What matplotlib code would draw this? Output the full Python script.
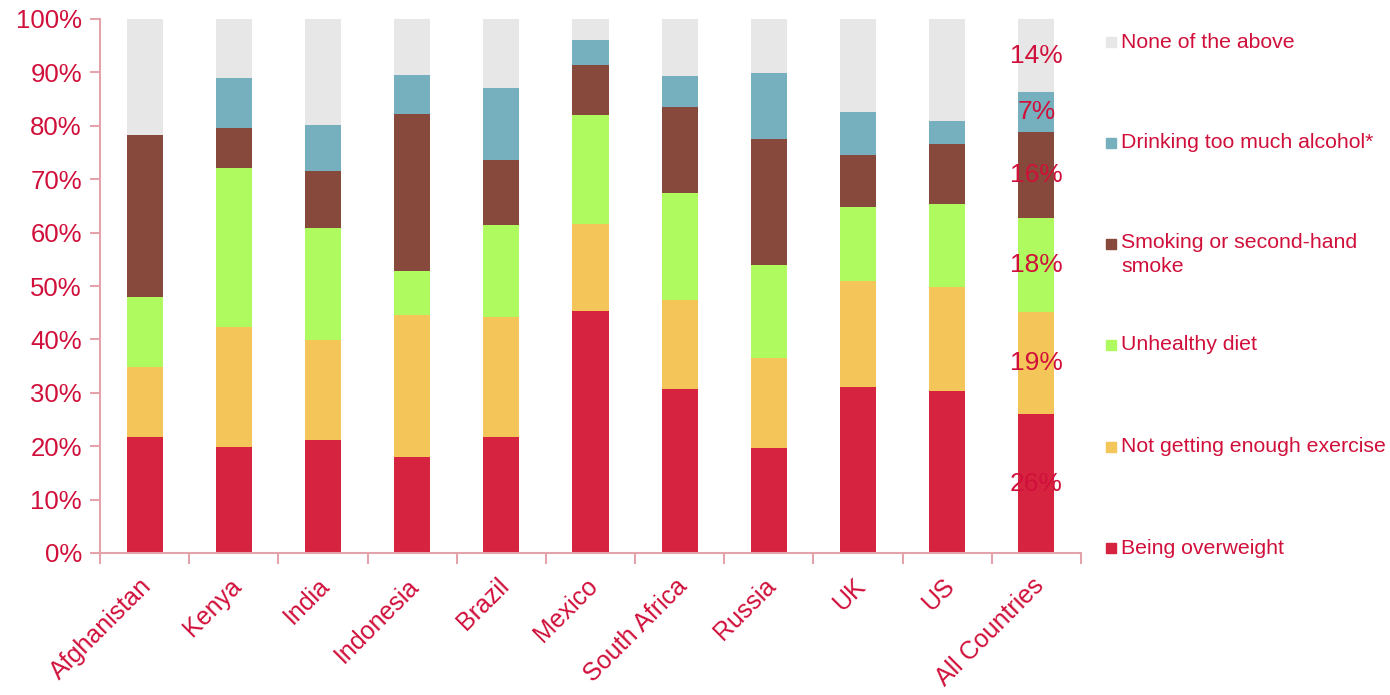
import matplotlib.pyplot as plt
import matplotlib.patches as mpatches
import matplotlib.transforms as mtransforms
import numpy as np

plt.rcParams['font.family'] = ['Liberation Sans', 'DejaVu Sans']

countries = ['Afghanistan', 'Kenya', 'India', 'Indonesia', 'Brazil', 'Mexico',
             'South Africa', 'Russia', 'UK', 'US', 'All Countries']

overweight = [21.7, 19.9, 21.2, 18.0, 21.7, 45.3, 30.7, 19.7, 31.1, 30.3, 26.0]
exercise   = [13.1, 22.4, 18.7, 26.6, 22.5, 16.3, 16.7, 16.8, 19.8, 19.5, 19.1]
diet       = [13.1, 29.8, 21.0,  8.2, 17.2, 20.4, 20.0, 17.4, 13.9, 15.6, 17.6]
smoking    = [30.4,  7.5, 10.6, 29.4, 12.2,  9.4, 16.1, 23.6,  9.7, 11.2, 16.1]
alcohol    = [ 0.0,  9.4,  8.6,  7.3, 13.5,  4.7,  5.8, 12.4,  8.1,  4.3,  7.5]
none_above = [21.7, 11.0, 19.9, 10.5, 12.9,  3.9, 10.7, 10.1, 17.4, 19.1, 13.7]

series = [overweight, exercise, diet, smoking, alcohol, none_above]
names = ['Being overweight', 'Not getting enough exercise', 'Unhealthy diet',
         'Smoking or second-hand\nsmoke', 'Drinking too much alcohol*', 'None of the above']
colors = ['#D52340', '#F4C65A', '#AFFA5F', '#87493B', '#76B0BE', '#E7E7E7']
all_labels = ['26%', '19%', '18%', '16%', '7%', '14%']

txt = '#D0103A'
axc = '#E4A3AA'

fig = plt.figure(figsize=(13.9, 6.95), dpi=100)
ax = fig.add_axes([100/1390, 1-553/695, 981/1390, 534/695])

x = np.arange(len(countries))
bottom = np.zeros(len(countries))
for vals, c, n in zip(series, colors, names):
    ax.bar(x, vals, 0.405, bottom=bottom, color=c, label=n, edgecolor='none')
    bottom += np.array(vals)

# labels on the All Countries bar
b = 0
for vals, lab in zip(series, all_labels):
    v = vals[-1]
    ax.text(x[-1], b + v/2, lab, ha='center', va='center', color=txt, fontsize=19)
    b += v

ax.set_xlim(-0.5, len(countries) - 0.5)
ax.set_ylim(0, 100)
ax.set_yticks(np.arange(0, 101, 10))
ax.set_yticklabels([f'{v}%' for v in range(0, 101, 10)])
ax.set_xticks(x)
ax.set_xticklabels(countries, rotation=45, ha='right', rotation_mode='anchor')
ax.set_xticks(np.arange(-0.5, len(countries), 1), minor=True)
ax.tick_params(axis='x', which='major', length=0, pad=15, labelsize=18, labelcolor=txt)
ax.tick_params(axis='x', which='minor', length=8, color=axc, width=1.5)
ax.tick_params(axis='y', length=7, color=axc, width=1.5, labelsize=18.5, labelcolor=txt, pad=6)
shift = mtransforms.ScaledTranslation(-5/100, 0, fig.dpi_scale_trans)
for lbl in ax.get_xticklabels():
    lbl.set_transform(lbl.get_transform() + shift)
for s in ['top', 'right']:
    ax.spines[s].set_visible(False)
for s in ['left', 'bottom']:
    ax.spines[s].set_color(axc)
    ax.spines[s].set_linewidth(1.5)

# legend, top to bottom
ys = [42, 143, 244, 345, 447, 548]
for i, (n, c) in enumerate(zip(names[::-1], colors[::-1])):
    y = ys[i]
    fig.patches.append(mpatches.Rectangle((1106/1390, 1-(y+5)/695), 10/1390, 10/695,
                                          transform=fig.transFigure, color=c))
    if '\n' in n:
        fig.text(1121/1390, 1-(y-11)/695, n, ha='left', va='top',
                 color=txt, fontsize=15.3, linespacing=1.3)
    else:
        fig.text(1121/1390, 1-y/695, n, ha='left', va='center',
                 color=txt, fontsize=15.3)

fig.savefig('out.png', dpi=100)
